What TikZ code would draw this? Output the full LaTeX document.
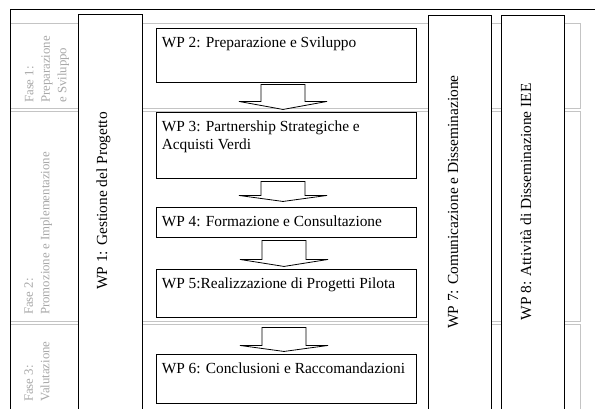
\documentclass[tikz,border=0pt]{standalone}
\usepackage{fontspec}
\setmainfont{Liberation Serif}
\usetikzlibrary{calc}
\definecolor{phaseline}{HTML}{C4C4C4}
\definecolor{phasetext}{HTML}{A8A8A8}
\newcommand\wpfont{\fontsize{15.4}{18}\selectfont}
\newcommand\phfont{\fontsize{12.8}{16.5}\selectfont}
\newcommand\blkarrow[3]{%
  \draw[blk] ($(#1)+(-22,0)$) -- ($(#1)+(-22,#2)$) -- ($(#1)+(-44,#2)$)
    -- ($(#1)+(0,#2+#3)$) -- ($(#1)+(44,#2)$) -- ($(#1)+(22,#2)$)
    -- ($(#1)+(22,0)$) -- cycle;}
\begin{document}
\begin{tikzpicture}[x=1pt,y=-1pt,
  phaserow/.style={draw=phaseline, line width=0.8pt},
  wpbox/.style={draw=black, line width=0.9pt, fill=white},
  wplabel/.style={anchor=north west, inner sep=0pt, align=left, font=\wpfont},
  vlabel/.style={rotate=90, anchor=base, inner sep=0pt, font=\wpfont},
  phlabel/.style={rotate=90, anchor=north west, inner sep=0pt, align=left, font=\phfont, text=phasetext},
  blk/.style={draw=black, line width=0.8pt, fill=white, line join=miter}]
\useasboundingbox (0,0) rectangle (595,409);
\fill[white] (0,0) rectangle (595,409);
% phase rows
\draw[phaserow] (10,23) rectangle (580,108);
\draw[phaserow] (10,111) rectangle (580,321);
\draw[phaserow] (10,324) rectangle (580,420);
% outer frame lines
\coordinate (tl) at (10,9);
\coordinate (tr) at (596,9);
\coordinate (bl) at (10,412);
\draw[black, line width=0.9pt] (tr) -- (tl) -- (bl);
% phase labels
\node[phlabel] (f1) at (21.5,103) {\strut Fase 1:\\Preparazione\\e Sviluppo};
\node[phlabel] (f2) at (21,315) {\strut Fase 2:\\Promozione e Implementazione};
\node[phlabel] (f3) at (21,402) {\strut Fase 3:\\Valutazione};
% vertical WP boxes
\draw[wpbox] (78,14) rectangle (142,415);
\draw[wpbox] (428,15) rectangle (491,415);
\draw[wpbox] (501,15) rectangle (564,415);
\node[vlabel] (wp1) at (107,201) {WP 1: Gestione del Progetto};
\node[vlabel] (wp7) at (458,202) {WP 7: Comunicazione e Disseminazione};
\node[vlabel] (wp8) at (531,202) {WP 8: Attività di Disseminazione IEE};
% horizontal WP boxes
\node[wpbox, minimum width=260pt, minimum height=54pt, inner sep=0pt] (wp2) at (286,55) {};
\node[wpbox, minimum width=260pt, minimum height=66pt, inner sep=0pt] (wp3) at (286,145) {};
\node[wpbox, minimum width=260pt, minimum height=30pt, inner sep=0pt] (wp4) at (286,222) {};
\node[wpbox, minimum width=260pt, minimum height=48pt, inner sep=0pt] (wp5) at (286,293) {};
\node[wpbox, minimum width=260pt, minimum height=49pt, inner sep=0pt] (wp6) at (286,378.5) {};
\node[wplabel] (t2) at ($(wp2.north west)+(6,7.4)$) {\strut WP 2: Preparazione e Sviluppo};
\node[wplabel] (t3) at ($(wp3.north west)+(6,7.4)$) {\strut WP 3: Partnership Strategiche e\\Acquisti Verdi};
\node[wplabel] (t4) at ($(wp4.north west)+(6,7.4)$) {\strut WP 4: Formazione e Consultazione};
\node[wplabel] (t5) at ($(wp5.north west)+(6,7.4)$) {\strut WP 5:Realizzazione di Progetti Pilota};
\node[wplabel] (t6) at ($(wp6.north west)+(6,7.4)$) {\strut WP 6: Conclusioni e Raccomandazioni};
% block arrows between the work packages
\coordinate (a1) at ($(wp2.south)+(-3,2)$);
\coordinate (a2) at ($(wp3.south)+(-3,3)$);
\coordinate (a3) at ($(wp4.south)+(-2,3)$);
\coordinate (a4) at ($(wp5.south)+(-2,10)$);
\blkarrow{a1}{17}{8}
\blkarrow{a2}{14}{6}
\blkarrow{a3}{19}{7}
\blkarrow{a4}{18}{6}
\end{tikzpicture}
\end{document}
